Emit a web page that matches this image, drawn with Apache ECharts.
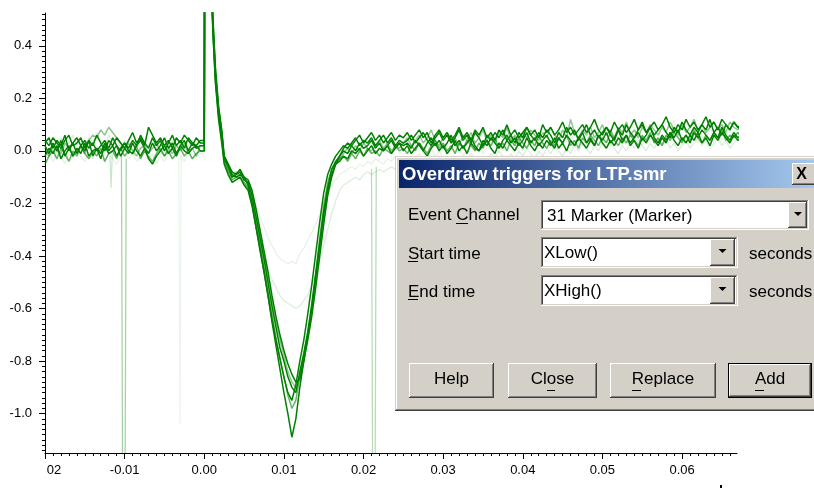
<!DOCTYPE html>
<html>
<head>
<meta charset="utf-8">
<script src="https://cdn.jsdelivr.net/npm/echarts@6/dist/echarts.min.js"></script>
<style>
html,body{margin:0;padding:0;background:#fff;}
#chart{width:814px;height:488px;}
</style>
</head>
<body>
<div id="chart"></div>
<script>
// ---- axis ticks / labels (time in ms, shown in seconds) ----
const xMajorTicks = [-20,-10,0,10,20,30,40,50,60];
const xTickLabels = ['02','-0.01','0.00','0.01','0.02','0.03','0.04','0.05','0.06'];
const yMajorTicks = [-1.0,-0.8,-0.6,-0.4,-0.2,0.0,0.2,0.4];
const yTickLabels = ['-1.0','-0.8','-0.6','-0.4','-0.2','0.0','0.2','0.4'];

// ---- sample times ----
const preStart = -20, postStart = 2.5, sampleStep = 0.5;   // ms
const artTimes = [0, 0.1, 0.9, 1.1, 1.4, 1.8, 2.2];       // ms, stimulus artefact

// ---- traces: pre-trigger, artefact, post-trigger values (V) ----
const d1Pre = [0.02,-0.01,0.03,0.00,0.04,-0.02,0.01,0.03,-0.01,0.02,
  0.00,0.04,-0.02,0.01,-0.01,0.03,0.00,0.02,-0.02,0.01,
  0.03,0.00,-0.01,0.02,0.04,0.01,-0.01,0.03,0.00,0.02,
  0.05,0.01,0.03,-0.01,0.02,0.04,0.00,0.03,0.01,0.02];
const d1Art = [0.02,1.6,0.62,0.46,0.28,0.14,0.05];
const d1Post = [-0.03,-0.06,-0.10,-0.09,-0.08,-0.11,-0.12,-0.17,-0.25,-0.33,
  -0.41,-0.50,-0.59,-0.67,-0.75,-0.80,-0.86,-0.90,-0.92,-0.84,
  -0.77,-0.69,-0.59,-0.47,-0.35,-0.23,-0.14,-0.07,-0.04,-0.02,
  0.00,-0.01,0.02,0.00,0.03,0.01,0.02,0.04,0.01,0.03,
  0.00,0.02,0.04,0.01,0.03,0.02,0.03,0.01,0.04,0.02,
  0.00,0.03,0.05,0.02,0.04,0.01,0.03,0.06,0.02,0.04,
  0.01,0.03,0.05,0.02,0.00,0.04,0.02,0.05,0.03,0.01,
  0.04,0.06,0.03,0.05,0.02,0.04,0.07,0.03,0.05,0.02,
  0.04,0.06,0.03,0.01,0.05,0.03,0.06,0.04,0.02,0.05,
  0.07,0.03,0.05,0.02,0.06,0.04,0.07,0.03,0.05,0.08,
  0.04,0.06,0.03,0.05,0.07,0.04,0.06,0.09,0.05,0.03,
  0.06,0.04,0.07,0.05,0.08,0.04,0.06,0.03,0.07,0.05,
  0.08,0.06,0.04,0.07,0.05,0.09,0.06,0.04,0.07,0.05,
  0.06,0.08];

const d2Pre = [0.03,0.05,0.01,0.04,0.02,0.06,0.00,0.03,0.05,0.02,
  0.04,0.01,0.03,0.00,0.02,0.04,0.01,0.05,0.02,0.00,
  0.03,0.01,0.04,0.02,0.06,0.03,0.01,0.05,0.02,0.04,
  0.00,0.03,0.06,0.02,0.04,0.01,0.05,0.03,0.02,0.04];
const d2Art = [0.04,1.6,0.66,0.49,0.30,0.16,0.07];
const d2Post = [-0.02,-0.05,-0.08,-0.09,-0.07,-0.10,-0.13,-0.20,-0.29,-0.38,
  -0.46,-0.55,-0.64,-0.72,-0.79,-0.86,-0.92,-0.95,-0.89,-0.80,
  -0.72,-0.62,-0.51,-0.39,-0.27,-0.16,-0.09,-0.05,-0.02,0.00,
  0.02,0.01,0.03,0.05,0.02,0.04,0.03,0.05,0.02,0.04,
  0.06,0.03,0.05,0.02,0.04,0.03,0.04,0.06,0.03,0.05,
  0.07,0.04,0.02,0.05,0.07,0.04,0.06,0.03,0.05,0.08,
  0.04,0.06,0.03,0.07,0.05,0.02,0.06,0.04,0.07,0.05,
  0.08,0.04,0.06,0.03,0.07,0.05,0.09,0.06,0.04,0.07,
  0.05,0.08,0.06,0.03,0.07,0.05,0.09,0.06,0.08,0.04,
  0.07,0.10,0.06,0.08,0.05,0.07,0.09,0.06,0.04,0.08,
  0.06,0.10,0.07,0.05,0.08,0.11,0.07,0.09,0.06,0.08,
  0.10,0.07,0.05,0.09,0.07,0.11,0.08,0.06,0.09,0.07,
  0.10,0.08,0.12,0.07,0.09,0.06,0.10,0.08,0.11,0.09,
  0.08,0.10];

const d3Pre = [-0.02,0.01,-0.01,0.02,-0.03,0.00,0.02,-0.02,0.01,-0.01,
  0.03,-0.02,0.00,0.01,-0.03,0.02,-0.01,0.00,0.02,-0.02,
  0.01,-0.01,0.03,0.00,-0.02,0.01,-0.03,-0.05,-0.02,0.00,
  0.02,-0.01,0.01,-0.02,0.02,0.00,-0.01,0.01,0.02,0.00];
const d3Art = [0.00,1.6,0.60,0.44,0.26,0.12,0.03];
const d3Post = [-0.05,-0.09,-0.12,-0.11,-0.10,-0.13,-0.15,-0.21,-0.29,-0.37,
  -0.46,-0.55,-0.65,-0.74,-0.83,-0.92,-1.00,-1.09,-1.02,-0.90,
  -0.80,-0.70,-0.60,-0.48,-0.36,-0.24,-0.15,-0.09,-0.05,-0.04,
  -0.02,-0.03,0.00,-0.01,0.01,-0.02,0.00,0.02,-0.01,0.01,
  0.00,0.02,-0.01,0.01,0.03,0.00,0.02,-0.01,0.01,0.03,
  0.00,-0.02,0.01,0.03,0.00,0.02,-0.01,0.01,0.04,0.00,
  0.02,-0.01,0.03,0.01,0.00,0.02,0.04,0.01,-0.01,0.03,
  0.01,0.04,0.02,0.00,0.03,0.01,0.05,0.02,0.00,0.03,
  0.01,0.04,0.02,0.05,0.01,0.03,0.00,0.04,0.02,0.05,
  0.03,0.01,0.04,0.02,0.06,0.03,0.01,0.04,0.02,0.05,
  0.03,0.06,0.02,0.04,0.01,0.05,0.03,0.06,0.04,0.02,
  0.05,0.03,0.07,0.04,0.02,0.05,0.03,0.06,0.04,0.07,
  0.03,0.05,0.02,0.06,0.04,0.07,0.05,0.03,0.06,0.04,
  0.05,0.03];

const d4Pre = [0.04,0.02,0.05,0.03,0.01,0.04,0.06,0.02,0.03,0.05,
  0.01,0.04,0.02,0.06,0.03,0.00,0.04,0.02,0.05,0.03,
  0.01,0.04,0.07,0.03,0.05,0.02,0.09,0.06,0.03,0.05,
  0.02,0.04,0.01,0.05,0.03,0.06,0.04,0.02,0.05,0.03];
const d4Art = [0.03,1.6,0.68,0.50,0.32,0.17,0.08];
const d4Post = [-0.02,-0.05,-0.09,-0.10,-0.09,-0.10,-0.11,-0.15,-0.22,-0.30,
  -0.38,-0.46,-0.55,-0.63,-0.70,-0.76,-0.81,-0.85,-0.88,-0.87,
  -0.80,-0.72,-0.63,-0.52,-0.40,-0.28,-0.17,-0.10,-0.05,-0.02,
  0.01,0.03,0.02,0.04,0.06,0.03,0.05,0.07,0.04,0.06,
  0.03,0.05,0.07,0.04,0.06,0.05,0.07,0.04,0.06,0.08,
  0.05,0.07,0.03,0.06,0.08,0.05,0.07,0.04,0.06,0.09,
  0.05,0.07,0.04,0.08,0.06,0.09,0.05,0.07,0.04,0.08,
  0.06,0.10,0.06,0.08,0.05,0.07,0.09,0.06,0.08,0.05,
  0.10,0.07,0.09,0.06,0.08,0.11,0.07,0.09,0.06,0.08,
  0.10,0.07,0.09,0.12,0.08,0.06,0.09,0.07,0.11,0.08,
  0.10,0.07,0.09,0.12,0.08,0.10,0.07,0.09,0.11,0.08,
  0.10,0.13,0.09,0.07,0.10,0.08,0.12,0.09,0.11,0.08,
  0.10,0.13,0.09,0.11,0.08,0.12,0.10,0.08,0.11,0.09,
  0.10,0.12];

const m1Pre = [-0.05,-0.02,0.00,-0.03,0.01,-0.01,-0.04,0.00,-0.02,0.02,
  -0.01,-0.03,0.00,-0.02,0.01,-0.04,-0.01,0.00,-0.03,0.01,
  -0.02,0.00,-0.01,0.02,-0.03,0.00,-0.02,-0.04,-0.01,0.01,
  -0.02,0.00,-0.03,-0.01,0.01,-0.02,0.00,-0.03,-0.01,0.00];
const m1Art = [0.00,1.6,0.61,0.45,0.27,0.13,0.04];
const m1Post = [-0.04,-0.08,-0.11,-0.10,-0.10,-0.12,-0.14,-0.19,-0.27,-0.35,
  -0.44,-0.53,-0.62,-0.71,-0.79,-0.86,-0.93,-0.98,-0.95,-0.86,
  -0.78,-0.69,-0.58,-0.46,-0.33,-0.21,-0.12,-0.07,-0.05,-0.03,
  -0.02,-0.04,-0.01,-0.03,0.00,-0.02,0.01,-0.01,0.00,-0.02,
  0.01,0.00,-0.01,0.02,0.00,0.01,-0.01,0.02,0.00,0.03,
  0.01,-0.01,0.02,0.04,0.01,0.03,0.00,0.02,-0.01,0.03,
  0.01,0.04,0.02,0.00,0.03,0.01,0.04,0.02,0.05,0.01,
  0.03,0.00,0.04,0.02,0.05,0.03,0.01,0.04,0.02,0.06,
  0.03,0.01,0.04,0.02,0.05,0.03,0.06,0.02,0.04,0.01,
  0.05,0.03,0.06,0.04,0.02,0.05,0.03,0.07,0.04,0.02,
  0.05,0.03,0.06,0.04,0.02,0.06,0.04,0.07,0.03,0.05,
  0.02,0.06,0.04,0.07,0.05,0.03,0.06,0.04,0.08,0.05,
  0.03,0.06,0.04,0.07,0.05,0.08,0.04,0.06,0.05,0.07,
  0.05,0.06];

const m2Pre = [0.01,-0.02,0.02,0.00,-0.01,0.03,0.01,-0.02,0.00,0.02,
  -0.01,0.04,0.06,0.05,0.08,0.06,0.09,0.07,0.05,0.03,
  0.01,0.03,0.00,-0.02,0.01,0.02,-0.01,0.01,0.03,0.00,
  -0.02,0.01,-0.01,0.02,0.00,0.03,-0.01,0.01,-0.02,0.02];
const m2Art = [0.02,1.6,0.64,0.47,0.29,0.15,0.06];
const m2Post = [-0.03,-0.07,-0.10,-0.08,-0.09,-0.11,-0.12,-0.16,-0.23,-0.31,
  -0.40,-0.48,-0.57,-0.65,-0.72,-0.78,-0.84,-0.88,-0.90,-0.86,
  -0.79,-0.71,-0.61,-0.50,-0.38,-0.26,-0.16,-0.09,-0.05,-0.03,
  -0.01,0.01,-0.01,0.02,0.00,0.03,0.01,0.00,0.02,0.04,
  0.01,0.03,0.00,0.02,0.01,0.03,0.05,0.02,0.04,0.06,
  0.03,0.05,0.08,0.04,0.02,0.05,0.07,0.03,0.05,0.02,
  0.06,0.04,0.07,0.03,0.05,0.08,0.04,0.06,0.03,0.07,
  0.05,0.09,0.04,0.06,0.03,0.07,0.05,0.08,0.06,0.04,
  0.07,0.05,0.09,0.06,0.04,0.08,0.05,0.12,0.07,0.05,
  0.08,0.06,0.09,0.05,0.07,0.10,0.06,0.08,0.05,0.09,
  0.07,0.11,0.06,0.08,0.05,0.09,0.07,0.10,0.08,0.06,
  0.09,0.07,0.11,0.08,0.06,0.10,0.07,0.09,0.12,0.08,
  0.10,0.07,0.09,0.11,0.08,0.10,0.07,0.11,0.09,0.08,
  0.10,0.09];

const l1Pre = [-0.03,-0.01,-0.04,0.00,-0.02,-0.05,-0.01,-0.03,0.01,-0.02,
  -0.04,-0.01,-0.03,0.00,-0.02,-0.04,-0.01,-0.03,-0.05,-0.02,
  0.00,-0.03,-0.01,-0.04,-0.02,0.00,-0.03,-0.01,-0.05,-0.02,
  -0.04,-0.01,-0.03,0.00,-0.02,-0.04,-0.01,-0.03,-0.02,-0.01];
const l1Art = [-0.01,1.6,0.60,0.43,0.25,0.11,0.02];
const l1Post = [-0.05,-0.08,-0.11,-0.10,-0.10,-0.12,-0.14,-0.17,-0.21,-0.25,
  -0.29,-0.33,-0.36,-0.39,-0.41,-0.42,-0.43,-0.42,-0.43,-0.39,
  -0.37,-0.34,-0.31,-0.28,-0.24,-0.20,-0.16,-0.13,-0.11,-0.09,
  -0.08,-0.07,-0.06,-0.07,-0.05,-0.06,-0.04,-0.05,-0.03,-0.04,
  -0.05,-0.03,-0.04,-0.02,-0.03,-0.04,-0.02,-0.05,-0.03,-0.01,
  -0.04,-0.02,0.01,-0.02,0.00,-0.03,-0.01,0.02,-0.01,0.01,
  -0.02,0.00,0.03,0.00,0.02,-0.01,0.01,0.04,0.01,0.03,
  0.00,0.02,0.05,0.01,0.03,0.00,0.02,0.04,0.01,0.06,
  0.02,0.04,0.01,0.03,0.05,0.02,0.04,0.07,0.03,0.05,
  0.02,0.04,0.06,0.03,0.05,0.08,0.04,0.02,0.05,0.03,
  0.06,0.04,0.07,0.03,0.05,0.02,0.06,0.10,0.05,0.08,
  0.05,0.03,0.06,0.12,0.07,0.04,0.06,0.09,0.05,0.03,
  0.06,0.04,0.09,0.05,0.07,0.04,0.06,0.08,0.05,0.07,
  0.06,0.05];

const l2Pre = [0.02,0.04,0.00,0.03,0.05,0.01,0.03,0.06,0.02,0.04,
  0.01,0.05,0.03,0.07,0.04,0.02,0.06,0.03,0.05,0.01,
  0.04,0.02,0.00,0.03,0.01,0.04,0.02,0.05,0.01,0.03,
  0.00,0.02,0.04,0.01,0.03,0.00,0.02,0.04,0.01,0.03];
const l2Art = [0.03,1.6,0.63,0.46,0.28,0.13,0.04];
const l2Post = [-0.04,-0.07,-0.10,-0.09,-0.09,-0.11,-0.13,-0.18,-0.25,-0.32,
  -0.39,-0.45,-0.49,-0.52,-0.55,-0.57,-0.58,-0.59,-0.60,-0.59,
  -0.57,-0.55,-0.51,-0.47,-0.42,-0.36,-0.30,-0.24,-0.19,-0.15,
  -0.13,-0.12,-0.11,-0.10,-0.11,-0.09,-0.08,-0.09,-0.08,-0.07,
  -0.08,-0.07,-0.06,-0.07,-0.05,-0.06,-0.04,-0.07,-0.05,-0.03,
  -0.06,-0.04,-0.06,-0.03,-0.05,-0.02,-0.04,-0.06,-0.03,-0.05,
  -0.02,-0.04,-0.01,-0.03,-0.05,-0.02,-0.04,-0.01,-0.03,0.00,
  -0.02,-0.04,-0.01,-0.03,0.00,-0.02,0.01,-0.01,-0.03,0.00,
  -0.02,0.01,-0.01,0.02,0.00,-0.02,0.01,-0.01,0.02,0.00,
  0.03,0.01,-0.01,0.02,0.00,0.03,0.01,0.04,0.01,-0.01,
  0.02,0.00,0.03,0.01,0.04,0.02,0.00,0.03,0.01,0.04,
  0.02,0.05,0.01,0.03,0.00,0.02,0.04,0.01,0.03,0.05,
  0.02,0.04,0.01,0.03,0.05,0.02,0.04,0.01,0.03,0.05,
  0.02,0.04];

// ---- isolated spikes (time ms, value V) ----
const spikeATimes = [-10.4,-10.25,-9.95,-9.8];  const spikeAVals = [-0.02,-1.3,-1.3,-0.03];
const spikeBTimes = [-3.2,-3.05,-2.9];          const spikeBVals = [-0.03,-1.04,-0.02];
const spikeCTimes = [-11.85,-11.7,-11.55];      const spikeCVals = [-0.02,-0.14,-0.01];
const spikeDTimes = [21.0,21.15,21.45,21.6];    const spikeDVals = [-0.07,-1.3,-1.3,-0.06];

function buildTrace(pre, art, post) {
  const pts = [];
  pre.forEach((v, i) => pts.push([preStart + sampleStep * i, v]));
  art.forEach((v, i) => pts.push([artTimes[i], v]));
  post.forEach((v, i) => pts.push([postStart + sampleStep * i, v]));
  return pts;
}
function zip(t, v) { return t.map((x, i) => [x, v[i]]); }

const traces = [
  { data: buildTrace(l1Pre, l1Art, l1Post), color: 'rgba(0,128,0,0.10)', w: 1.3 },
  { data: buildTrace(l2Pre, l2Art, l2Post), color: 'rgba(0,128,0,0.14)', w: 1.3 },
  { data: zip(spikeBTimes, spikeBVals), color: 'rgba(0,128,0,0.08)', w: 1.3 },
  { data: zip(spikeCTimes, spikeCVals), color: 'rgba(0,128,0,0.2)', w: 1.3 },
  { data: zip(spikeATimes, spikeAVals), color: 'rgba(0,128,0,0.35)', w: 1.3 },
  { data: zip(spikeDTimes, spikeDVals), color: 'rgba(0,128,0,0.28)', w: 1.3 },
  { data: buildTrace(m2Pre, m2Art, m2Post), color: 'rgba(0,128,0,0.45)', w: 1.5 },
  { data: buildTrace(m1Pre, m1Art, m1Post), color: 'rgba(0,128,0,0.6)', w: 1.5 },
  { data: buildTrace(d4Pre, d4Art, d4Post), color: '#008000', w: 1.5 },
  { data: buildTrace(d3Pre, d3Art, d3Post), color: '#008000', w: 1.5 },
  { data: buildTrace(d2Pre, d2Art, d2Post), color: '#008000', w: 1.5 },
  { data: buildTrace(d1Pre, d1Art, d1Post), color: '#008000', w: 1.5 }
];

// minor tick positions derived from the major ticks
const xMinorTicks = [];
for (let i = 0; i < xMajorTicks.length; i++) {
  for (let k = 1; k < 10; k++) {
    const v = xMajorTicks[i] + k;
    if (v < 66.9) xMinorTicks.push(v);
  }
}
const yMinorTicks = [];
const yAll = [-1.2].concat(yMajorTicks);
for (let i = 0; i < yAll.length; i++) {
  for (let k = 1; k < 10; k++) {
    const v = Math.round((yAll[i] + 0.02 * k) * 100) / 100;
    if (v > -1.15 && v < 0.525) yMinorTicks.push(v);
  }
}

const FONT = '"Liberation Sans", Arial, sans-serif';

// ---- dialog (graphic overlay) ----
const G = [];
function rect(x, y, w, h, fill) {
  G.push({ type: 'rect', shape: { x: x, y: y, width: w, height: h }, style: { fill: fill }, silent: true, z: 100 + G.length });
}
function bevel(x, y, w, h, c) {
  rect(x, y, w, h, c[4]);
  rect(x, y, w, 1, c[0]); rect(x, y, 1, h, c[0]);
  rect(x, y + h - 1, w, 1, c[1]); rect(x + w - 1, y, 1, h, c[1]);
  rect(x + 1, y + 1, w - 2, 1, c[2]); rect(x + 1, y + 1, 1, h - 2, c[2]);
  rect(x + 1, y + h - 2, w - 2, 1, c[3]); rect(x + w - 2, y + 1, 1, h - 2, c[3]);
}
function text(str, x, y, opt) {
  G.push({ type: 'text', x: x, y: y, silent: true, z: 100 + G.length,
    style: Object.assign({ text: str, fill: '#000', font: '17px ' + FONT,
      textAlign: 'left', textVerticalAlign: 'middle', align: 'left', verticalAlign: 'middle' }, opt || {}) });
}
function tri(cx, cy) {
  G.push({ type: 'polygon', shape: { points: [[cx - 4, cy - 2], [cx + 4, cy - 2], [cx, cy + 2]] }, style: { fill: '#000' }, silent: true, z: 100 + G.length });
}
const FRAME = ['#D4D0C8', '#404040', '#FFFFFF', '#808080', '#D4D0C8'];
const BTN = ['#FFFFFF', '#404040', '#D4D0C8', '#808080', '#D4D0C8'];
const SUNK = ['#808080', '#FFFFFF', '#404040', '#D4D0C8', '#FFFFFF'];

bevel(395, 156, 425, 255, FRAME);
G.push({ type: 'rect', shape: { x: 399, y: 160, width: 420, height: 28 }, silent: true, z: 100 + G.length,
  style: { fill: new echarts.graphic.LinearGradient(0, 0, 1, 0, [{ offset: 0, color: '#0A246A' }, { offset: 1, color: '#A6CAF0' }]) } });
text('Overdraw triggers for LTP.smr', 402, 175, { font: 'bold 18.5px ' + FONT, fill: '#FFFFFF' });
bevel(792, 163, 24, 22, BTN);
text('X', 801.5, 175, { font: 'bold 16px ' + FONT, textAlign: 'center', align: 'center' });

text('Event Channel', 408, 215);
rect(456, 223, 12, 1, '#000');
text('Start time', 408, 254);
rect(408, 261, 10, 1, '#000');
text('End time', 408, 292);
rect(408, 299, 10, 1, '#000');

bevel(541, 200, 268, 30, SUNK);
text('31 Marker (Marker)', 547, 216);
bevel(788, 202, 19, 26, BTN);
tri(798, 214);

bevel(541, 237, 197, 31, SUNK);
text('XLow()', 544, 253);
bevel(710, 239, 25, 27, BTN);
tri(722.5, 251);
text('seconds', 749, 254);

bevel(541, 275, 197, 31, SUNK);
text('XHigh()', 544, 291.5);
bevel(710, 277, 25, 27, BTN);
tri(722.5, 289);
text('seconds', 749, 292);

bevel(409, 363, 85, 35, BTN);
text('Help', 451.5, 379, { textAlign: 'center', align: 'center' });
bevel(508, 363, 89, 35, BTN);
text('Close', 552.5, 379, { textAlign: 'center', align: 'center' });
rect(547, 390, 8, 1, '#000');
bevel(610, 363, 106, 35, BTN);
text('Replace', 663, 379, { textAlign: 'center', align: 'center' });
rect(632, 390, 9, 1, '#000');
rect(728, 363, 84, 35, '#000');
bevel(729, 364, 82, 33, BTN);
text('Add', 770, 379, { textAlign: 'center', align: 'center' });
rect(755, 390, 9, 1, '#000');
rect(720, 485, 2, 3, '#000');

const chart = echarts.init(document.getElementById('chart'), null, { renderer: 'canvas' });
const axisLineStyle = { color: '#000', width: 1 };
chart.setOption({
  backgroundColor: '#ffffff',
  animation: false,
  grid: { left: 45, right: 77, top: 13, bottom: 35, containLabel: false },
  xAxis: [
    { type: 'value', min: -20, max: 66.9, position: 'bottom',
      axisLine: { show: true, onZero: false, lineStyle: axisLineStyle },
      splitLine: { show: false },
      axisTick: { show: true, customValues: xMajorTicks, length: 6, lineStyle: axisLineStyle },
      axisLabel: { show: true, customValues: xMajorTicks, margin: 11, color: '#000', fontSize: 13, fontFamily: FONT,
        formatter: function (v) {
          const i = xMajorTicks.indexOf(v);
          if (i < 0) return '';
          return i === 0 ? '{s|' + xTickLabels[i] + '}' : xTickLabels[i];
        },
        rich: { s: { padding: [0, 0, 0, 18], fontSize: 13, fontFamily: FONT, color: '#000' } } } },
    { type: 'value', min: -20, max: 66.9, position: 'bottom',
      axisLine: { show: false, onZero: false },
      splitLine: { show: false },
      axisTick: { show: true, customValues: xMinorTicks, length: 3, lineStyle: axisLineStyle },
      axisLabel: { show: false } }
  ],
  yAxis: [
    { type: 'value', min: -1.15, max: 0.525, position: 'left',
      axisLine: { show: true, onZero: false, lineStyle: axisLineStyle },
      splitLine: { show: false },
      axisTick: { show: true, customValues: yMajorTicks, length: 6, lineStyle: axisLineStyle },
      axisLabel: { show: true, customValues: yMajorTicks, margin: 13, color: '#000', fontSize: 13, fontFamily: FONT,
        formatter: function (v) {
          const i = yMajorTicks.indexOf(v);
          return i < 0 ? '' : yTickLabels[i];
        } } },
    { type: 'value', min: -1.15, max: 0.525, position: 'left',
      axisLine: { show: false, onZero: false },
      splitLine: { show: false },
      axisTick: { show: true, customValues: yMinorTicks, length: 3, lineStyle: axisLineStyle },
      axisLabel: { show: false } }
  ],
  series: traces.map(function (t) {
    return { type: 'line', xAxisIndex: 0, yAxisIndex: 0, data: t.data, showSymbol: false, symbol: 'none',
      lineStyle: { color: t.color, width: t.w }, silent: true, clip: true, animation: false };
  }),
  graphic: { elements: G }
});
</script>
</body>
</html>
